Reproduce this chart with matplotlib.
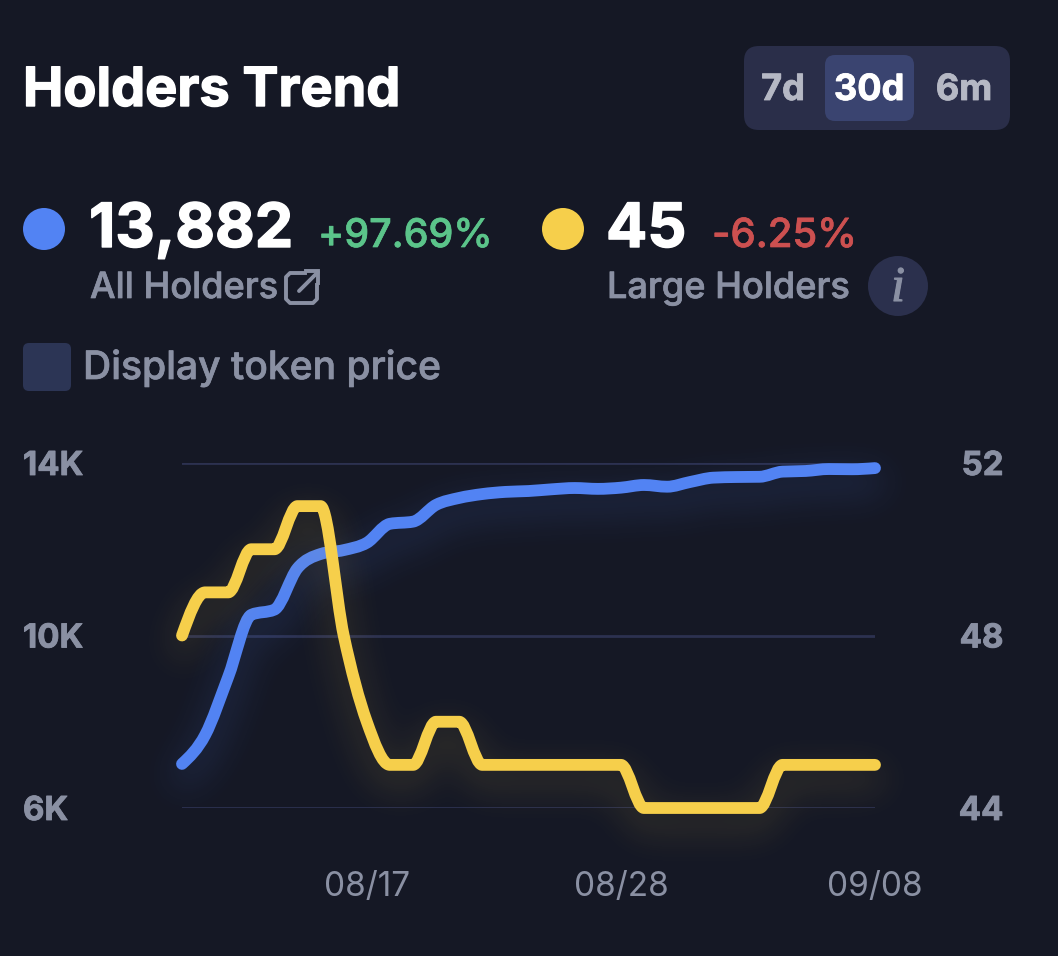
import numpy as np
import matplotlib
matplotlib.use('Agg')
import matplotlib.pyplot as plt
import matplotlib.patheffects as pe
from matplotlib.colors import to_rgb
from matplotlib.patches import Circle, FancyBboxPatch, PathPatch
from matplotlib.path import Path

plt.rcParams['font.family'] = ['Inter', 'DejaVu Sans']

# Daily values, 08/09 to 09/08
days = np.arange(31)
all_holders = [7022, 7690, 9040, 10480, 10600, 11560, 11890, 11980, 12150, 12590, 12640,
               13030, 13190, 13280, 13330, 13350, 13390, 13420, 13400, 13428, 13490,
               13450, 13560, 13660, 13675, 13680, 13800, 13815, 13860, 13855, 13882]
large_holders = [48, 49, 49, 50, 50, 51, 51, 48, 46, 45, 45, 46, 46, 45, 45, 45, 45, 45, 45,
                 45, 44, 44, 44, 44, 44, 44, 45, 45, 45, 45, 45]

x_ticks = [8, 19, 30]
x_labels = ['08/17', '08/28', '09/08']
left_ticks = [6000, 10000, 14000]
left_labels = ['6K', '10K', '14K']
right_ticks = [44, 48, 52]

BG = '#151825'
GRID = '#2c3150'
BLUE = '#5283f3'
YELLOW = '#f6cf4b'
GREY = '#8a90a3'
W, H = 1058, 956


def monotone_path(x, y):
    # monotone cubic through the daily points, as bezier segments
    x = np.asarray(x, dtype=float)
    y = np.asarray(y, dtype=float)
    h = np.diff(x)
    s = np.diff(y) / h
    m = np.zeros(len(x))
    for i in range(1, len(x) - 1):
        if s[i - 1] * s[i] > 0:
            m[i] = (np.sign(s[i - 1]) + np.sign(s[i])) * min(abs(s[i - 1]), abs(s[i]),
                                                             0.25 * abs(s[i - 1] + s[i]))
    m[0] = (3 * s[0] - m[1]) / 2
    m[-1] = (3 * s[-1] - m[-2]) / 2
    verts = [(x[0], y[0])]
    codes = [Path.MOVETO]
    for i in range(len(h)):
        verts += [(x[i] + h[i] / 3, y[i] + m[i] * h[i] / 3),
                  (x[i + 1] - h[i] / 3, y[i + 1] - m[i + 1] * h[i] / 3),
                  (x[i + 1], y[i + 1])]
        codes += [Path.CURVE4] * 3
    return Path(verts, codes)


def glow(color, sigma, alpha, offset):
    # blurred copy of the line, used through agg_filter
    def apply(im, dpi):
        pad = int(3 * sigma) + offset
        out = np.pad(im, ((pad, pad), (pad, pad), (0, 0)))
        t = np.arange(-int(3 * sigma), int(3 * sigma) + 1)
        kernel = np.exp(-t ** 2 / (2 * sigma ** 2))
        kernel = kernel / kernel.sum()
        a = out[:, :, 3]
        a = np.apply_along_axis(np.convolve, 0, a, kernel, mode='same')
        a = np.apply_along_axis(np.convolve, 1, a, kernel, mode='same')
        out[:, :, :3] = to_rgb(color)
        out[:, :, 3] = a * alpha
        return out, -pad, -pad - offset
    return apply


def heavy(text, width=0.7):
    # Inter weights come out a bit light here, thicken with a stroke
    text.set_path_effects([pe.withStroke(linewidth=width, foreground=text.get_color())])
    return text


fig = plt.figure(figsize=(W / 100, H / 100), dpi=100, facecolor=BG)

# Chart axes, placed on the pixel box of the grid lines
left, right, top, bottom = 182, 875, 463, 808
ax = fig.add_axes([left / W, 1 - bottom / H, (right - left) / W, (bottom - top) / H])
ax.set_facecolor('none')
ax.set_xlim(0, 30)
ax.set_ylim(6000, 14000)
ax.set_yticks(left_ticks, left_labels)
ax.set_xticks(x_ticks, x_labels)
ax.grid(axis='y', color=GRID, linewidth=2)
ax.set_axisbelow(True)
ax.tick_params(axis='both', length=0)
ax.tick_params(axis='y', pad=114.5, labelsize=23.8, labelcolor=GREY)
ax.tick_params(axis='x', pad=45, labelsize=24, labelcolor=GREY)
for label in ax.get_yticklabels():
    label.set_ha('left')
    label.set_fontweight('bold')
    heavy(label, 0.6)
for spine in ax.spines.values():
    spine.set_visible(False)

ax2 = ax.twinx()
ax2.set_facecolor('none')
ax2.set_ylim(44, 52)
ax2.set_yticks(right_ticks, [str(v) for v in right_ticks])
ax2.tick_params(axis='y', length=0, pad=92.5, labelsize=23.8, labelcolor=GREY)
for label in ax2.get_yticklabels():
    label.set_ha('right')
    label.set_fontweight('bold')
    heavy(label, 0.6)
for spine in ax2.spines.values():
    spine.set_visible(False)

for axis, values, color, alpha in [(ax, all_holders, BLUE, 0.2), (ax2, large_holders, YELLOW, 0.16)]:
    path = monotone_path(days, values)
    shadow = PathPatch(path, facecolor='none', edgecolor=color, linewidth=14, clip_on=False,
                       capstyle='round', joinstyle='round', zorder=2)
    shadow.set_agg_filter(glow(color, 18, alpha, 14))
    shadow.set_rasterized(True)
    axis.add_patch(shadow)
    axis.add_patch(PathPatch(path, facecolor='none', edgecolor=color, linewidth=8.5, clip_on=False,
                             capstyle='round', joinstyle='round', zorder=3))

# Overlay in pixel coordinates for the header controls
ui = fig.add_axes([0, 0, 1, 1], facecolor='none')
ui.set_xlim(0, W)
ui.set_ylim(H, 0)
ui.axis('off')


def box(x0, y0, x1, y1, r, color):
    ui.add_patch(FancyBboxPatch((x0 + r, y0 + r), x1 - x0 - 2 * r, y1 - y0 - 2 * r,
                                boxstyle=f'round,pad={r},rounding_size={r}',
                                facecolor=color, edgecolor='none'))


heavy(ui.text(23, 106, 'Holders Trend', color='white', fontsize=38.9, fontweight='bold', va='baseline'), 1.0)

box(744, 46, 1010, 130, 15, '#2a2e49')
box(825, 55, 914, 121, 10, '#3a4470')
heavy(ui.text(783, 100, '7d', color='#b5b8c4', fontsize=26, fontweight='bold', ha='center', va='baseline'), 0.6)
heavy(ui.text(869, 100, '30d', color='white', fontsize=26, fontweight='bold', ha='center', va='baseline'), 0.6)
heavy(ui.text(964, 100, '6m', color='#b5b8c4', fontsize=26, fontweight='bold', ha='center', va='baseline'), 0.6)

ui.add_patch(Circle((44, 229), 21, facecolor=BLUE, edgecolor='none'))
ui.add_patch(Circle((563, 229), 21, facecolor=YELLOW, edgecolor='none'))
heavy(ui.text(89, 247, '13,882', color='white', fontsize=44, fontweight='bold', va='baseline'), 1.0)
heavy(ui.text(318, 247, '+97.69%', color='#5bc48a', fontsize=28.4, fontweight='medium', va='baseline'), 0.5)
heavy(ui.text(606, 247, '45', color='white', fontsize=44, fontweight='bold', va='baseline'), 1.0)
heavy(ui.text(712, 247, '-6.25%', color='#cc5050', fontsize=28.8, fontweight='medium', va='baseline'), 0.5)
heavy(ui.text(90, 298, 'All Holders', color=GREY, fontsize=26, fontweight='medium', va='baseline'), 0.5)
heavy(ui.text(607, 298, 'Large Holders', color=GREY, fontsize=26, fontweight='medium', va='baseline'), 0.5)

# external link icon
ui.plot([305, 290, 286, 286, 290, 313, 317, 317], [273, 273, 277, 299, 303, 303, 299, 285],
        color=GREY, linewidth=2.8, solid_joinstyle='round')
ui.plot([299, 318], [291, 272], color=GREY, linewidth=2.8, solid_capstyle='round')
ui.plot([306, 318, 318], [271, 271, 283], color=GREY, linewidth=2.8, solid_joinstyle='miter')

ui.add_patch(Circle((898, 286), 30, facecolor='#2b304d', edgecolor='none'))
heavy(ui.text(898, 301, 'i', color=GREY, fontsize=36, family='Liberation Serif', style='italic',
              ha='center', va='baseline'), 0.8)

box(23, 343, 71, 391, 6, '#2c3555')
heavy(ui.text(83, 379, 'Display token price', color=GREY, fontsize=28.1, fontweight='medium', va='baseline'), 0.5)

fig.savefig('out.png', dpi=100, facecolor=BG)
